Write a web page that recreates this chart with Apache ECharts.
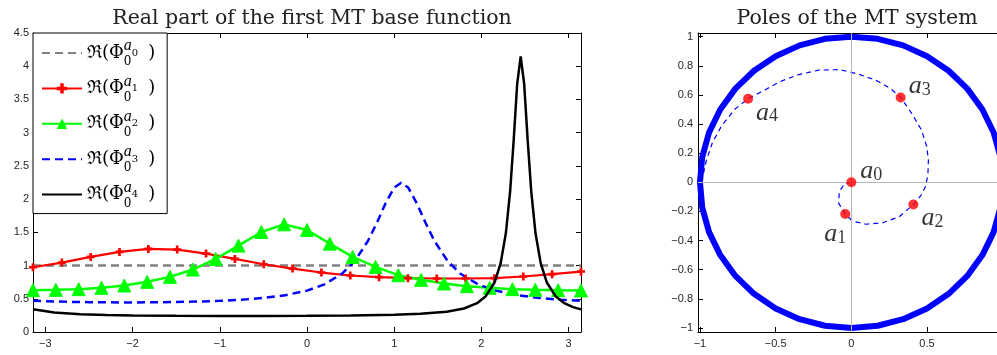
<!DOCTYPE html>
<html><head><meta charset="utf-8">
<script src="https://cdn.jsdelivr.net/npm/echarts@6/dist/echarts.min.js"></script>
<style>html,body{margin:0;padding:0;background:#fff}#c{width:997px;height:355px}</style>
</head><body><div id="c"></div>
<script>
// ---------- left panel data ----------
const xTicks = [-3, -2, -1, 0, 1, 2, 3];
const tGray = [-3.1416, 3.1416];
const reGray = [1, 1];
const tRed = [-3.1416, -2.8109, -2.4802, -2.1495, -1.8188, -1.4881, -1.1574, -0.8267, -0.4960, -0.1653,
              0.1653, 0.4960, 0.8267, 1.1574, 1.4881, 1.8188, 2.1495, 2.4802, 2.8109, 3.1416];
const reRed = [0.975, 1.045, 1.13, 1.205, 1.25, 1.24, 1.18, 1.10, 1.02, 0.955,
               0.895, 0.85, 0.825, 0.81, 0.805, 0.805, 0.81, 0.835, 0.87, 0.91];
const tGreen = [-3.1416, -2.8798, -2.6180, -2.3562, -2.0944, -1.8326, -1.5708, -1.3090, -1.0472, -0.7854,
                -0.5236, -0.2618, 0, 0.2618, 0.5236, 0.7854, 1.0472, 1.3090, 1.5708, 1.8326,
                2.0944, 2.3562, 2.6180, 2.8798, 3.1416];
const reGreen = [0.63, 0.635, 0.645, 0.665, 0.70, 0.755, 0.83, 0.94, 1.10, 1.30,
                 1.505, 1.62, 1.535, 1.33, 1.13, 0.98, 0.855, 0.785, 0.73, 0.69,
                 0.665, 0.645, 0.635, 0.63, 0.625];
const tBlue = [-3.1416, -2.75, -2.5, -2.25, -2.0, -1.75, -1.5, -1.25, -1.0, -0.75, -0.5, -0.25, 0, 0.2, 0.4,
               0.55, 0.7, 0.8, 0.9, 1.0, 1.08, 1.16, 1.26, 1.36, 1.46, 1.61, 1.76, 1.96, 2.16, 2.41, 2.66, 2.91, 3.1416];
const reBlue = [0.470, 0.454, 0.449, 0.446, 0.445, 0.447, 0.451, 0.458, 0.469, 0.486, 0.512, 0.554, 0.623, 0.717, 0.876,
                1.072, 1.373, 1.641, 1.935, 2.174, 2.245, 2.174, 1.935, 1.641, 1.373, 1.072, 0.876, 0.717, 0.623, 0.554, 0.512, 0.486, 0.470];
const tBlack = [-3.1416, -2.9, -2.6, -2.3, -2.0, -1.5, -1.0, -0.5, 0, 0.5, 1.0, 1.3, 1.6, 1.8, 1.95, 2.05, 2.15,
                2.22, 2.28, 2.33, 2.37, 2.41, 2.45, 2.49, 2.53, 2.57, 2.62, 2.68, 2.75, 2.85, 2.95, 3.05, 3.1416];
const reBlack = [0.341, 0.293, 0.268, 0.256, 0.249, 0.244, 0.242, 0.241, 0.243, 0.247, 0.258, 0.273, 0.305, 0.354, 0.434, 0.539, 0.745,
                 1.033, 1.485, 2.133, 2.891, 3.734, 4.146, 3.734, 2.891, 2.133, 1.485, 1.033, 0.745, 0.539, 0.434, 0.375, 0.341];
const seriesNames = ['a0', 'a1', 'a2', 'a3', 'a4'];
const markerless = ['a0', 'a3', 'a4'];

// ---------- right panel data ----------
const xTicksR = [-1, -0.5, 0, 0.5, 1];
const yTicksR = [-1, -0.8, -0.6, -0.4, -0.2, 0, 0.2, 0.4, 0.6, 0.8, 1];
const circleX = [1, .985, .940, .866, .766, .643, .5, .342, .174, 0, -.174, -.342, -.5, -.643, -.766, -.866, -.940, -.985, -1,
                 -.985, -.940, -.866, -.766, -.643, -.5, -.342, -.174, 0, .174, .342, .5, .643, .766, .866, .940, .985, 1];
const circleY = [0, .174, .342, .5, .643, .766, .866, .940, .985, 1, .985, .940, .866, .766, .643, .5, .342, .174, 0,
                 -.174, -.342, -.5, -.643, -.766, -.866, -.940, -.985, -1, -.985, -.940, -.866, -.766, -.643, -.5, -.342, -.174, 0];
const spiralX = [0, -0.044, -0.079, -0.084, -0.039, 0.01, 0.099, 0.207, 0.316, 0.41, 0.459, 0.489, 0.506, 0.509, 0.498, 0.464,
                 0.40, 0.326, 0.257, 0.163, 0.049, -0.079, -0.217, -0.355, -0.474, -0.572, -0.682, -0.77, -0.859, -0.918, -0.957, -0.977];
const spiralY = [0, -0.01, -0.061, -0.143, -0.22, -0.268, -0.288, -0.278, -0.237, -0.153, -0.092, -0.031, 0.051, 0.153, 0.246, 0.358,
                 0.471, 0.582, 0.645, 0.70, 0.742, 0.774, 0.77, 0.737, 0.69, 0.634, 0.574, 0.501, 0.384, 0.271, 0.153, 0.061];
const poleX = [0, -0.04, 0.41, 0.326, -0.682];
const poleY = [0, -0.218, -0.153, 0.582, 0.574];
const poleIdx = ['0', '1', '2', '3', '4'];

// ---------- helpers ----------
const zip = (a, b) => a.map((v, i) => [v, b[i]]);
const PI = Math.PI;
const fmtMinus = v => { const r = Math.round(v * 10) / 10; return r < 0 ? '\u2212' + Math.abs(r) : String(r); };
const AX = '#000';
const LBL = {color: '#262626', fontSize: 11, fontFamily: 'Liberation Sans, Arial, sans-serif'};
const plus = 'path://M2,0h2v2h2v2h-2v2h-2v-2h-2v-2h2z';
const SERIF = 'DejaVu Serif, serif';

const chart = echarts.init(document.getElementById('c'), null, {renderer: 'canvas'});

const mkX = (grid, pos, min, max, ticks, labels) => ({
  gridIndex: grid, type: 'value', position: pos, min: min, max: max,
  axisLine: {show: true, onZero: false, lineStyle: {color: AX, width: 1}},
  axisTick: {show: true, inside: true, length: 5, customValues: ticks, lineStyle: {color: AX}},
  axisLabel: labels ? Object.assign({customValues: ticks, formatter: fmtMinus, margin: 6, showMinLabel: true, showMaxLabel: true}, LBL) : {show: false},
  splitLine: {show: false}
});
const mkY = (grid, pos, min, max, ticks, labels, margin) => ({
  gridIndex: grid, type: 'value', position: pos, min: min, max: max,
  axisLine: {show: true, onZero: false, lineStyle: {color: AX, width: 1}},
  axisTick: {show: true, inside: true, length: 5, customValues: ticks, lineStyle: {color: AX}},
  axisLabel: labels ? Object.assign({customValues: ticks, formatter: fmtMinus, margin: margin, showMinLabel: true, showMaxLabel: true}, LBL) : {show: false},
  splitLine: {show: false}
});
const yTicksL = [0, 0.5, 1, 1.5, 2, 2.5, 3, 3.5, 4, 4.5];

const labelFor = (i) => {
  const pos = [
    {position: 'right', distance: 4, offset: [0, -11]},
    {position: 'bottom', distance: 2, offset: [-10, 0]},
    {position: 'right', distance: 3, offset: [0, 14]},
    {position: 'right', distance: 3, offset: [0, -11]},
    {position: 'right', distance: 3, offset: [0, 14]}
  ][i];
  return Object.assign({show: true, formatter: '{a|a}{s|' + poleIdx[i] + '}',
    rich: {
      a: {fontFamily: 'Liberation Serif, serif', fontStyle: 'italic', fontSize: 26, color: '#000', lineHeight: 26},
      s: {fontFamily: 'Liberation Serif, serif', fontSize: 18, color: '#000', verticalAlign: 'bottom', lineHeight: 18}
    }}, pos);
};

const option = {
  animation: false,
  backgroundColor: '#fff',
  title: [
    {text: 'Real part of the first MT base function', left: 307, top: 3, textAlign: 'center',
     textStyle: {fontFamily: SERIF, fontSize: 20.5, fontWeight: 'normal', color: '#222'}},
    {text: 'Poles of the MT system', left: 852, top: 3, textAlign: 'center',
     textStyle: {fontFamily: SERIF, fontSize: 20.5, fontWeight: 'normal', color: '#222'}}
  ],
  grid: [
    {left: 33, top: 33, width: 548, height: 299, outerBoundsMode: 'none', containLabel: false},
    {left: 698, top: 33, width: 304.7, height: 299, outerBoundsMode: 'none', containLabel: false}
  ],
  xAxis: [
    mkX(0, 'bottom', -PI, PI, xTicks, true),
    mkX(0, 'top', -PI, PI, xTicks, false),
    mkX(1, 'bottom', -1.013, 1, xTicksR, true),
    mkX(1, 'top', -1.013, 1, xTicksR, false)
  ],
  yAxis: [
    mkY(0, 'left', 0, 4.5, yTicksL, true, 4),
    mkY(0, 'right', 0, 4.5, yTicksL, false, 4),
    mkY(1, 'left', -1.028, 1.025, yTicksR, true, 5)
  ],
  legend: {
    data: seriesNames.map(n => markerless.indexOf(n) >= 0 ? {name: n, itemStyle: {opacity: 0}} : {name: n}),
    orient: 'vertical', left: 33, top: 33, align: 'left',
    itemWidth: 40, itemHeight: 13, itemGap: 5.4, padding: [5, 12, 4, 8],
    backgroundColor: '#fff', borderColor: '#000', borderWidth: 1, borderRadius: 0,
    selectedMode: false,
    formatter: n => '{r|\u211C(\u03A6}{z|0}{p|a}{q|' + n.slice(1) + '}{r|)}',
    textStyle: {
      rich: {
        r: {fontFamily: SERIF, fontSize: 18, lineHeight: 30, color: '#000'},
        z: {fontFamily: SERIF, fontSize: 12, width: 0, lineHeight: 17, verticalAlign: 'bottom', color: '#000'},
        p: {fontFamily: 'Liberation Serif, serif', fontStyle: 'italic', fontSize: 16, lineHeight: 20, verticalAlign: 'top', color: '#000'},
        q: {fontFamily: SERIF, fontSize: 10, verticalAlign: 'middle', color: '#000', padding: [0, 10, 0, 0]}
      }
    }
  },
  series: [
    {name: 'a0', type: 'line', xAxisIndex: 0, yAxisIndex: 0, data: zip(tGray, reGray), symbol: 'none',
     lineStyle: {color: '#808080', width: 2.5, type: [8, 5]}, itemStyle: {color: '#808080'}, z: 2},
    {name: 'a1', type: 'line', xAxisIndex: 0, yAxisIndex: 0, data: zip(tRed, reRed), symbol: plus, symbolSize: 8,
     lineStyle: {color: '#ff0000', width: 2.2}, itemStyle: {color: '#ff0000'}, z: 3},
    {name: 'a2', type: 'line', xAxisIndex: 0, yAxisIndex: 0, data: zip(tGreen, reGreen), symbol: 'triangle', symbolSize: 13,
     lineStyle: {color: '#00ff00', width: 2.5}, itemStyle: {color: '#00ff00', borderColor: '#00ff00'}, z: 3},
    {name: 'a3', type: 'line', xAxisIndex: 0, yAxisIndex: 0, data: zip(tBlue, reBlue), symbol: 'none',
     lineStyle: {color: '#0000ff', width: 2.5, type: [8, 5]}, itemStyle: {color: '#0000ff'}, z: 3},
    {name: 'a4', type: 'line', xAxisIndex: 0, yAxisIndex: 0, data: zip(tBlack, reBlack), symbol: 'none',
     lineStyle: {color: '#000000', width: 2.5}, itemStyle: {color: '#000000'}, z: 4},

    {name: 'axes0', type: 'line', xAxisIndex: 2, yAxisIndex: 2, data: [], symbol: 'none', z: 1,
     markLine: {silent: true, symbol: 'none', label: {show: false},
       lineStyle: {color: '#b8b8b8', width: 1, type: 'solid'},
       data: [{xAxis: 0}, {yAxis: 0}]}},
    {name: 'unit circle', type: 'line', xAxisIndex: 2, yAxisIndex: 2, data: zip(circleX, circleY), symbol: 'none',
     clip: false, lineStyle: {color: '#0000ff', width: 6}, z: 2},
    {name: 'path', type: 'line', xAxisIndex: 2, yAxisIndex: 2, data: zip(spiralX, spiralY), symbol: 'none',
     lineStyle: {color: '#0000ff', width: 1.2, type: [5, 4]}, z: 3},
    {name: 'poles', type: 'scatter', xAxisIndex: 2, yAxisIndex: 2, symbol: 'circle', symbolSize: 10,
     itemStyle: {color: '#ff0000'}, z: 5,
     data: poleX.map((x, i) => ({value: [x, poleY[i]], label: labelFor(i)}))}
  ]
};
chart.setOption(option);
</script></body></html>
